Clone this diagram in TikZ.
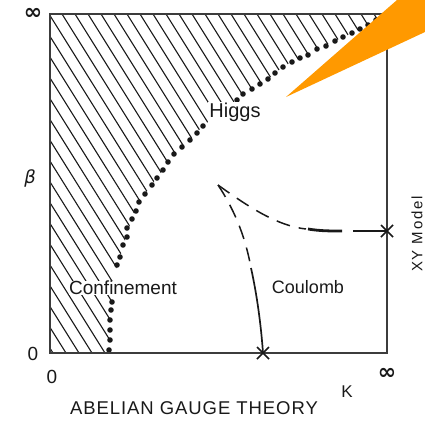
\documentclass[tikz,border=0pt]{standalone}
\usepackage{fontspec}
\setmainfont{Liberation Sans}
\newfontfamily\symfam{DejaVu Sans}
\newfontfamily\spacedfam[LetterSpace=12]{Liberation Sans}
\newfontfamily\titlefam[LetterSpace=5]{Liberation Sans}
\definecolor{hilite}{RGB}{255,153,0}
\definecolor{ink}{RGB}{25,25,25}
\tikzset{
  lbl/.style={font=\fontsize{18}{18}\selectfont, text=ink, inner sep=1pt},
  hatchline/.style={draw=ink, line width=1.1pt},
  frame/.style={draw=ink!85, line width=1.6pt},
  dashA/.style={draw=ink, line width=1.5pt, dash pattern=on 14pt off 9pt},
  thickdash/.style={draw=ink, line width=2.8pt},
  solidline/.style={draw=ink, line width=1.7pt},
  xmark/.style={draw=ink, line width=1.5pt},
  dotfill/.style={fill=ink}
}
\begin{document}
\begin{tikzpicture}[x=1pt,y=-1pt]
\useasboundingbox (0,0) rectangle (425,421);
% hatched region
\begin{scope}
\clip (50,14) -- (387,14) -- plot[smooth] coordinates {(387,14) (368,25) (352,33) (335,41) (317,49) (300,58) (283,67) (268,79) (252,89) (237,100) (220,113) (203,126) (190,140) (174,154) (163,170) (152,185) (139,202) (132,219) (126,237) (120,257) (117,265) (113,290) (112,302) (110,330) (109,353)} -- (50,353) -- cycle;
\foreach \x in {-172,-159,...,400} \draw[hatchline] (\x,14) -- ++(212,339);
\end{scope}
% dots along boundary
\foreach \p in {(109,350),(110,340),(110,330),(110,320),(111,310),(112,302),
  (117,265),(120,257),(123,245),(127,237),(127,228),(132,219),(136,211),(139,202),(145,194),
  (152,185),(157,178),(163,170),(168,162),(174,154),(182,147),(190,140),(197,133),(203,126),
  (237,100),(243,94),(252,89),(260,84),(268,79),(275,73),(283,67),(292,62),(300,58),(308,55),
  (317,49),(326,46),(335,41),(343,37),(352,33),(360,29),(368,25),(376,20)}
  \fill[dotfill] \p circle (2.8);
% frame
\draw[frame] (50,14) rectangle (387,353);
% labels inside
\node[lbl, fill=white, font=\fontsize{20}{20}\selectfont] (higgs) at (235,112) {Higgs};
\node[lbl, fill=white, inner sep=0.5pt, font=\fontsize{19}{19}\selectfont] (conf) at (123,288) {Confinement};
\node[lbl] (coul) at (308,287) {Coulomb};
% critical lines
\coordinate (tip) at (218,185);
\coordinate (starB) at (263,353);
\coordinate (starR) at (387,231);
\coordinate (bsplit) at (251,268);
\coordinate (asplit) at (306,229);
\draw[dashA] (tip) .. controls (236,212) and (246,240) .. (bsplit);
\draw[solidline] (bsplit) .. controls (257,295) and (261,325) .. (starB);
\draw[dashA] (tip) .. controls (250,208) and (278,226) .. (asplit);
\draw[thickdash] (308,229) .. controls (320,231) and (330,231) .. (342,231);
\draw[thickdash] (353,231) -- (starR);
\draw[xmark] (starB) ++(-6,-6) -- ++(12,12);
\draw[xmark] (starB) ++(-6,6) -- ++(12,-12);
\draw[xmark] (starR) ++(-6,-6) -- ++(12,12);
\draw[xmark] (starR) ++(-6,6) -- ++(12,-12);
% axis labels
\node[lbl, font=\symfam\bfseries\fontsize{22}{22}\selectfont] (inftop) at (33,14) {∞};
\node[lbl, font=\symfam\itshape\fontsize{18}{18}\selectfont] (beta) at (30,178) {β};
\node[lbl, font=\fontsize{19}{19}\selectfont] (zeroL) at (33,354) {0};
\node[lbl, font=\fontsize{19}{19}\selectfont] (zeroB) at (52,377) {0};
\node[lbl, font=\symfam\bfseries\fontsize{22}{22}\selectfont] (infB) at (387,374) {∞};
\node[lbl, font=\fontsize{17}{17}\selectfont] (K) at (347,392) {K};
\node[lbl, font=\titlefam\fontsize{18.5}{18.5}\selectfont] (title) at (194,408) {ABELIAN GAUGE THEORY};
\node[lbl, font=\spacedfam\fontsize{15}{15}\selectfont, rotate=90, inner sep=0pt] (xy) at (417,234) {XY Model};
% orange pointer
\fill[hilite] (286,97) -- (397,0) -- (425,0) -- (425,32) -- cycle;
\end{tikzpicture}
\end{document}
